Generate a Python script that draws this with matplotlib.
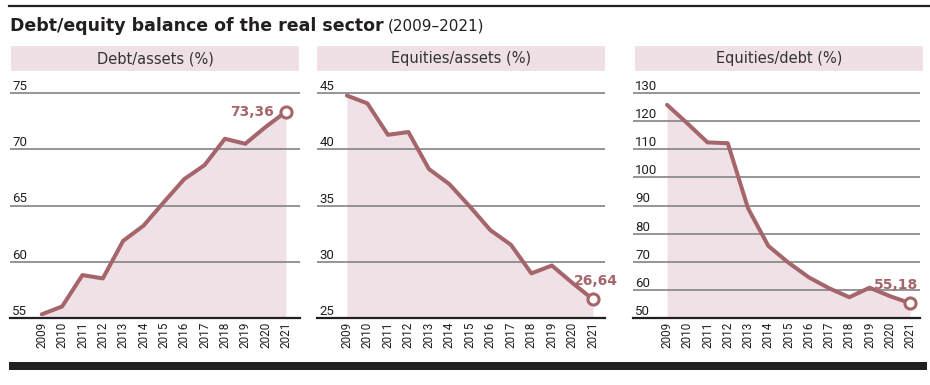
import matplotlib
matplotlib.use('Agg')
import matplotlib.pyplot as plt
from matplotlib.patches import Rectangle
from matplotlib.lines import Line2D

years = list(range(2009, 2022))

debt_assets = [55.3, 56.0, 58.8, 58.5, 61.85, 63.2, 65.3, 67.35, 68.6, 70.95, 70.5, 72.0, 73.36]
equities_assets = [44.8, 44.1, 41.3, 41.55, 38.25, 36.9, 34.9, 32.8, 31.5, 28.95, 29.65, 28.1, 26.64]
equities_debt = [125.9, 119.3, 112.5, 112.2, 89.0, 75.6, 69.6, 64.4, 60.5, 57.3, 60.7, 57.7, 55.18]

titles = ['Debt/assets (%)', 'Equities/assets (%)', 'Equities/debt (%)']
yticks_list = [[55, 60, 65, 70, 75],
               [25, 30, 35, 40, 45],
               [50, 60, 70, 80, 90, 100, 110, 120, 130]]
last_labels = ['73,36', '26,64', '55,18']

LINE = '#a5666b'
FILL = '#efe1e5'
HEAD = '#eee0e4'
GRID = '#8c8c8c'
NARROW = ['Roboto', 'DejaVu Sans']

W, H = 930, 385
fig = plt.figure(figsize=(W / 100, H / 100), dpi=100)


def fx(px):
    return px / W


def fy(py):
    return 1 - py / H


# top rule and bottom bar
fig.add_artist(Line2D([fx(9), fx(930)], [fy(6), fy(6)], color='#222222', lw=1.6))
fig.add_artist(Rectangle((fx(9), fy(370)), fx(927) - fx(9), fy(362) - fy(370),
                         transform=fig.transFigure, color='#231f20', lw=0))

# title
t = fig.text(fx(10), fy(26), 'Debt/equity balance of the real sector', fontsize=12.5,
             fontweight='bold', color='#231f20', va='center', ha='left')
fig.canvas.draw()
bb = t.get_window_extent()
fig.text(bb.x1 / W + fx(4), fy(26), '(2009\u20132021)', fontsize=11, color='#231f20',
         va='center', ha='left')

# panels: axes left/right px, header left/right px, xlim
panels = [
    dict(ax=(10, 300), head=(11, 299), xlim=(2007.44, 2021.69)),
    dict(ax=(317, 605), head=(317, 605), xlim=(2007.54, 2021.59)),
    dict(ax=(633, 920), head=(635, 923), xlim=(2007.32, 2021.49)),
]
series = [debt_assets, equities_assets, equities_debt]
top_px, bot_px = 93.3, 317.7

for i, p in enumerate(panels):
    vals = series[i]
    ticks = yticks_list[i]
    # header box
    hl, hr = p['head']
    fig.add_artist(Rectangle((fx(hl), fy(70.5)), fx(hr) - fx(hl), fy(46) - fy(70.5),
                             transform=fig.transFigure, color=HEAD, lw=0))
    fig.text(fx((hl + hr) / 2), fy(58.5), titles[i], fontsize=10.5, color='#333333',
             ha='center', va='center')

    al, ar = p['ax']
    ax = fig.add_axes([fx(al), fy(bot_px), fx(ar) - fx(al), fy(top_px) - fy(bot_px)])
    ax.set_xlim(*p['xlim'])
    ax.set_ylim(ticks[0], ticks[-1])
    for s in ['top', 'right', 'left']:
        ax.spines[s].set_visible(False)
    ax.spines['bottom'].set_color('#231f20')
    ax.spines['bottom'].set_linewidth(1.6)

    ax.hlines(ticks[1:], p['xlim'][0], p['xlim'][1], color=GRID, lw=1.3,
              clip_on=False, zorder=1)
    ax.fill_between(years, vals, ticks[0], color=FILL, lw=0, zorder=0)
    ax.plot(years, vals, color=LINE, lw=2.9, solid_joinstyle='round',
            solid_capstyle='round', zorder=3)
    ax.plot(years[-1], vals[-1], 'o', ms=8, mfc='white', mec=LINE, mew=2.2, zorder=4)

    # y labels sit above the gridlines on the left
    ax.set_yticks([])
    for v in ticks:
        ax.text(0.008, v, str(v), transform=ax.get_yaxis_transform(), fontsize=9.5,
                color='#231f20', ha='left', va='bottom', family=NARROW)

    ax.set_xticks(years)
    ax.set_xticklabels([str(y) for y in years], rotation=90, fontsize=8.5,
                       color='#231f20', family=NARROW)
    ax.tick_params(axis='x', length=0, pad=3)

    # value label at the last point
    if i == 0:
        ax.annotate(last_labels[i], (years[-1], vals[-1]), xytext=(-9, 0),
                    textcoords='offset points', ha='right', va='center',
                    fontsize=10, fontweight='bold', color=LINE)
    elif i == 1:
        ax.annotate(last_labels[i], (years[-1], vals[-1]), xytext=(2, 8),
                    textcoords='offset points', ha='center', va='bottom',
                    fontsize=10, fontweight='bold', color=LINE)
    else:
        ax.annotate(last_labels[i], (years[-1], vals[-1]), xytext=(6, 8),
                    textcoords='offset points', ha='right', va='bottom',
                    fontsize=10, fontweight='bold', color=LINE)

fig.savefig('out.png', dpi=100)
